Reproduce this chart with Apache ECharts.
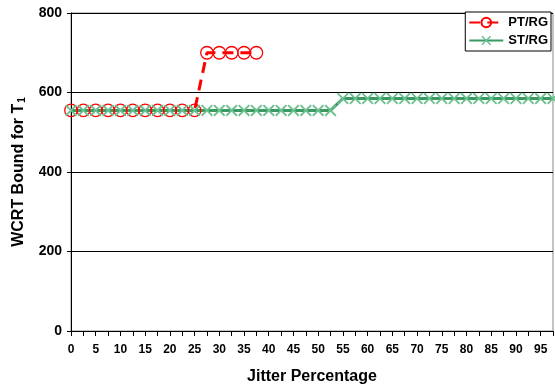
<!DOCTYPE html>
<html><head><meta charset="utf-8">
<script src="https://cdn.jsdelivr.net/npm/echarts@6/dist/echarts.min.js"></script>
<style>html,body{margin:0;padding:0;background:#fff}#c{width:555px;height:385px}</style>
</head><body><div id="c"></div>
<script>
var categories = ["0","2.5","5","7.5","10","12.5","15","17.5","20","22.5","25","27.5","30","32.5","35","37.5","40","42.5","45","47.5","50","52.5","55","57.5","60","62.5","65","67.5","70","72.5","75","77.5","80","82.5","85","87.5","90","92.5","95","97.5"];
var ptrg = [555,555,555,555,555,555,555,555,555,555,555,700,700,700,700,700,"-","-","-","-","-","-","-","-","-","-","-","-","-","-","-","-","-","-","-","-","-","-","-","-"];
var strg = [555,555,555,555,555,555,555,555,555,555,555,555,555,555,555,555,555,555,555,555,555,555,585,585,585,585,585,585,585,585,585,585,585,585,585,585,585,585,585,585];
var yTicks = [0,200,400,600,800];

var font = '"Liberation Sans", Arial, sans-serif';
var cross = 'path://M0,1.1L1.1,0L5,3.9L8.9,0L10,1.1L6.1,5L10,8.9L8.9,10L5,6.1L1.1,10L0,8.9L3.9,5Z';
var chart = echarts.init(document.getElementById('c'), null, {renderer:'canvas'});
chart.setOption({
  animation:false,
  backgroundColor:'#fff',
  grid:{left:71,right:2,top:13,bottom:54,outerBoundsMode:'none',containLabel:false,show:true,borderColor:'#888',borderWidth:1,backgroundColor:'transparent'},
  legend:{
    orient:'vertical', right:4, top:12, padding:[4,3,4,3], itemGap:5,
    itemWidth:34, itemHeight:12,
    backgroundColor:'#fff', borderColor:'#000', borderWidth:1,
    textStyle:{fontFamily:font, fontWeight:'bold', fontSize:13, color:'#000'},
    data:['PT/RG','ST/RG']
  },
  xAxis:{
    type:'category', data:categories, boundaryGap:false,
    name:'Jitter Percentage', nameLocation:'middle', nameGap:38,
    nameTextStyle:{fontFamily:font, fontWeight:'bold', fontSize:16, color:'#000'},
    axisLine:{lineStyle:{color:'#000',width:1}},
    axisTick:{show:true, interval:0, length:5, lineStyle:{color:'#000'}},
    axisLabel:{interval:1, margin:13, fontFamily:font, fontWeight:'bold', fontSize:12, color:'#000'},
    splitLine:{show:false}
  },
  yAxis:{
    type:'value', min:yTicks[0], max:yTicks[yTicks.length-1], interval:200,
    name:'WCRT Bound for T{sub|1}', nameLocation:'middle', nameGap:39,
    nameTextStyle:{fontFamily:font, fontWeight:'bold', fontSize:16, color:'#000',
      rich:{sub:{fontFamily:font, fontWeight:'bold', fontSize:10, color:'#000', padding:[9,0,0,1]}}},
    axisLine:{show:true, lineStyle:{color:'#000',width:1}},
    axisTick:{show:true, length:4, lineStyle:{color:'#000'}},
    axisLabel:{margin:9, fontFamily:font, fontWeight:'bold', fontSize:14, color:'#000'},
    splitLine:{show:true, lineStyle:{color:'#000', width:1}}
  },
  series:[
    {name:'PT/RG', type:'line', data:ptrg, color:'#ff0000',
     symbol:'circle', symbolSize:12.5, showAllSymbol:true,
     lineStyle:{color:'#ff0000', width:3, type:[11,7]},
     itemStyle:{color:'rgba(255,255,255,0)', borderColor:'#ff0000', borderWidth:1.3}},
    {name:'ST/RG', type:'line', data:strg, color:'#3b9a63',
     symbol:cross, symbolSize:12, showAllSymbol:true,
     lineStyle:{color:'#3b9a63', width:3},
     itemStyle:{color:'#6cc08f'}}
  ]
});
</script></body></html>
